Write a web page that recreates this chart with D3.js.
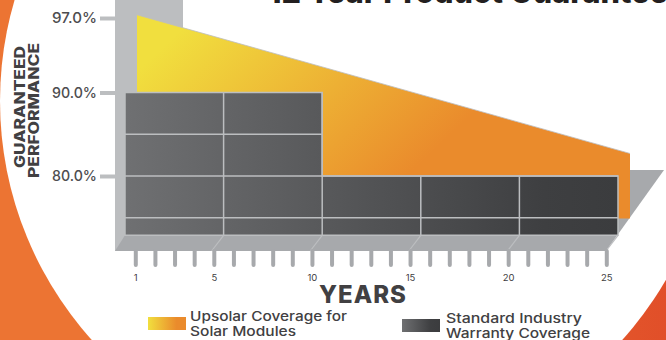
<!DOCTYPE html>
<html>
<head>
<meta charset="utf-8">
<script src="https://cdn.jsdelivr.net/npm/d3@7"></script>
<style>
  html, body { margin: 0; padding: 0; background: #fff; overflow: hidden; }
  svg { display: block; font-family: Inter, "Open Sans", sans-serif; }
</style>
</head>
<body>
<script>
var w = 666,
    h = 340;

// values
var perfTicks = [80, 90, 97],
    yearTicks = d3.range(1, 26),
    yearLabels = [1, 5, 10, 15, 20, 25],
    gridYears = [0, 5, 10, 15, 20, 25],
    gridLevels = [75, 80, 85],
    warrantyYears = [0, 10, 10, 25],
    warrantyPerf = [90, 90, 80, 80],
    warrantyBase = 72.9,
    upsolarYears = [0, 25],
    upsolarPerf = [97.3, 82.7],
    upsolarBase = 74.9;

var svg = d3.select('body').append('svg').attr('width', w).attr('height', h);
var defs = svg.append('defs');

function gradient(id, x1, y1, x2, y2, stops) {
  var g = defs.append('linearGradient').attr('id', id)
    .attr('gradientUnits', 'userSpaceOnUse')
    .attr('x1', x1).attr('y1', y1).attr('x2', x2).attr('y2', y2);
  stops.forEach(function(s) {
    g.append('stop').attr('offset', s[0]).attr('stop-color', s[1]);
  });
}
gradient('bg', 0, 0, 666, 0, [[0, '#ec7433'], [0.5, '#ec7433'], [1, '#e14f29']]);
gradient('sun', 170, 40, 350, 230, [[0, '#f1df3e'], [1, '#ea8b2c']]);
gradient('steel', 125, 0, 618, 0, [[0, '#6f7072'], [0.85, '#3e3f41'], [1, '#3b3c3e']]);
gradient('sunKey', 148, 0, 186, 0, [[0, '#f1df3e'], [0.75, '#ea8b2c'], [1, '#ea8b2c']]);
gradient('steelKey', 402, 0, 440, 0, [[0, '#6f7072'], [0.75, '#3e3f41'], [1, '#3b3c3e']]);

// backdrop: white disc on the orange page
svg.append('rect').attr('width', w).attr('height', h).attr('fill', 'url(#bg)');
svg.append('circle').attr('cx', 357).attr('cy', 101).attr('r', 357).attr('fill', '#fff');

// scales
var yScale = d3.scaleLinear().domain(perfTicks).range([176, 92.5, 18]),
    gridX = d3.scaleLinear().domain([0, 25]).range([125, 618]),
    tickX = d3.scaleLinear().domain([1, 25]).range([135.3, 606.3]);

var depthX = 12,
    floorY = 251;

// walls and floor
svg.append('rect').attr('x', 115).attr('y', -5).attr('width', 68).attr('height', 120).attr('fill', '#bcbec0');
svg.append('rect').attr('x', 115).attr('y', 0).attr('width', 22).attr('height', floorY).attr('fill', '#bcbec0');
svg.append('path')
  .attr('d', d3.line()([[115, floorY], [606, floorY], [664, 170], [500, 170], [gridX(0), yScale(warrantyBase)]]))
  .attr('fill', '#a7a9ac');

// upsolar coverage
var upsolarArea = d3.area()
  .x(function(d) { return gridX(d) + depthX; })
  .y0(yScale(upsolarBase))
  .y1(function(d, i) { return yScale(upsolarPerf[i]); });

svg.append('path')
  .datum(upsolarYears)
  .attr('d', upsolarArea)
  .attr('fill', 'url(#sun)');
svg.append('path')
  .datum(upsolarYears)
  .attr('d', upsolarArea.lineY1())
  .attr('fill', 'none')
  .attr('stroke', '#bcbec0')
  .attr('stroke-width', 0.8);

// standard warranty blocks
var warrantyArea = d3.area()
  .x(function(d) { return gridX(d); })
  .y0(yScale(warrantyBase))
  .y1(function(d, i) { return yScale(warrantyPerf[i]); });

svg.append('path')
  .datum(warrantyYears)
  .attr('d', warrantyArea)
  .attr('fill', 'url(#steel)')
  .attr('stroke', '#bcbec0')
  .attr('stroke-width', 1.5);

function topAt(year) {
  return yScale(year <= 10 ? warrantyPerf[0] : warrantyPerf[3]);
}

// block grid
svg.selectAll('line.v')
  .data(gridYears.slice(1, 5))
  .enter().append('line')
  .classed('v', true)
  .attr('x1', function(d) { return gridX(d); })
  .attr('x2', function(d) { return gridX(d); })
  .attr('y1', function(d) { return topAt(d); })
  .attr('y2', yScale(warrantyBase))
  .attr('stroke', '#bcbec0')
  .attr('stroke-width', 1.5);

svg.selectAll('line.h')
  .data(gridLevels)
  .enter().append('line')
  .classed('h', true)
  .attr('x1', gridX(0))
  .attr('x2', function(d) { return gridX(d > 80 ? 10 : 25); })
  .attr('y1', function(d) { return yScale(d); })
  .attr('y2', function(d) { return yScale(d); })
  .attr('stroke', '#bcbec0')
  .attr('stroke-width', 1.5);

// floor seams
svg.selectAll('line.seam')
  .data(gridYears.slice(1))
  .enter().append('line')
  .classed('seam', true)
  .attr('x1', function(d) { return gridX(d); })
  .attr('y1', yScale(warrantyBase))
  .attr('x2', function(d) { return gridX(d) - depthX; })
  .attr('y2', floorY)
  .attr('stroke', '#bcbec0')
  .attr('stroke-width', 1.2);

// axes
var xAxis = d3.axisBottom(tickX)
  .tickValues(yearTicks)
  .tickSize(14)
  .tickPadding(9)
  .tickFormat(function(d) { return yearLabels.indexOf(d) >= 0 ? d : ''; });

var xg = svg.append('g').attr('transform', 'translate(0,' + floorY + ')').call(xAxis);
xg.select('.domain').remove();
xg.selectAll('line').attr('stroke', '#a7a9ac').attr('stroke-width', 4).attr('stroke-linecap', 'round');
xg.selectAll('text').attr('fill', '#414042').attr('font-family', 'Inter, sans-serif').attr('font-size', 9.5);

var yAxis = d3.axisLeft(yScale)
  .tickValues(perfTicks)
  .tickSize(15)
  .tickPadding(3)
  .tickFormat(function(d) { return d.toFixed(1) + '%'; });

var yg = svg.append('g').attr('transform', 'translate(115,0)').call(yAxis);
yg.select('.domain').remove();
yg.selectAll('line').attr('stroke', '#bcbec0').attr('stroke-width', 4);
yg.selectAll('text').attr('fill', '#4d4d4f').attr('font-family', 'Inter, sans-serif')
  .attr('font-size', 14.5).attr('font-weight', 500).attr('textLength', 45).attr('lengthAdjust', 'spacingAndGlyphs');

// titles
svg.append('text').attr('x', 268).attr('y', 3)
  .attr('font-size', 32).attr('font-weight', 800).attr('fill', '#231f20')
  .attr('textLength', 400).attr('lengthAdjust', 'spacingAndGlyphs')
  .text('12 Year Product Guarantee');

svg.append('text').attr('x', 319).attr('y', 303)
  .attr('font-size', 24).attr('font-weight', 800).attr('fill', '#414042')
  .attr('letter-spacing', 1)
  .text('YEARS');

svg.append('text').attr('transform', 'translate(25,168) rotate(-90)')
  .attr('font-size', 14).attr('font-weight', 800).attr('fill', '#414042')
  .attr('textLength', 122).attr('lengthAdjust', 'spacingAndGlyphs')
  .text('GUARANTEED');
svg.append('text').attr('transform', 'translate(39,178) rotate(-90)')
  .attr('font-size', 14).attr('font-weight', 800).attr('fill', '#414042')
  .attr('textLength', 135).attr('lengthAdjust', 'spacingAndGlyphs')
  .text('PERFORMANCE');

// legend
svg.append('rect').attr('x', 148).attr('y', 317).attr('width', 38).attr('height', 13).attr('fill', 'url(#sunKey)');
svg.append('rect').attr('x', 402).attr('y', 319).attr('width', 38).attr('height', 13).attr('fill', 'url(#steelKey)');

function keyText(x, y, t, len) {
  svg.append('text').attr('x', x).attr('y', y)
    .attr('font-size', 13).attr('font-weight', 500).attr('fill', '#414042')
    .attr('textLength', len).attr('lengthAdjust', 'spacingAndGlyphs')
    .text(t);
}
keyText(190, 321, 'Upsolar Coverage for', 157);
keyText(190, 336, 'Solar Modules', 106);
keyText(446, 323, 'Standard Industry', 136);
keyText(446, 338, 'Warranty Coverage', 144);
</script>
</body>
</html>
